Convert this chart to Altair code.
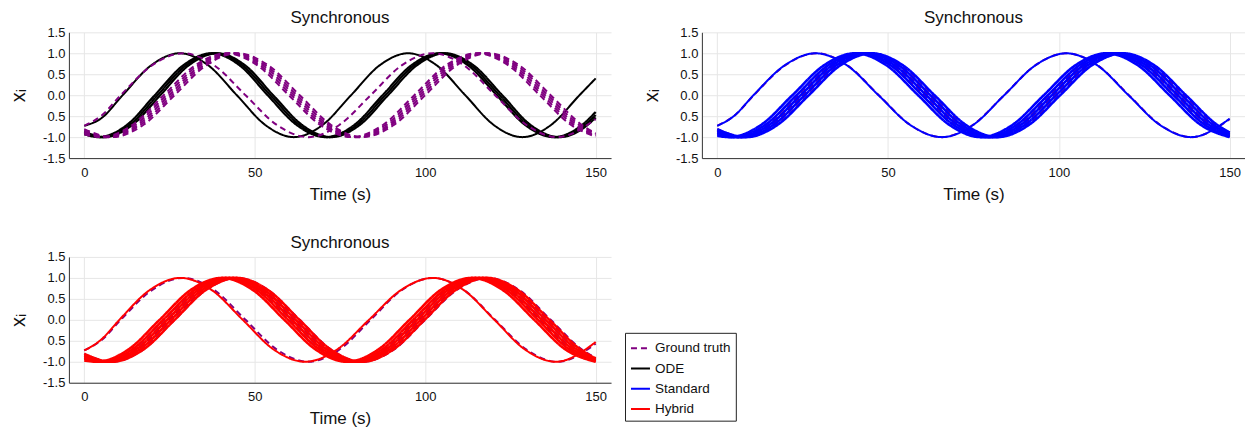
import altair as alt
import pandas as pd

# ---------------- data ----------------
SERIES = ["Ground truth", "ODE", "Standard", "Hybrid"]
COLORS = ["#800080", "#000000", "#0000ff", "#ff0000"]
DASHES = [[6, 4], [1, 0], [1, 0], [1, 0]]

X_TICKS = [0, 50, 100, 150]
Y_TICKS = [-1.5, -1.0, -0.5, 0.0, 0.5, 1.0, 1.5]

# key-phase values of a bundle trajectory, starting at its first trough
BUNDLE_PATTERN = [-1, -0.71, 0, 0.71, 1, 0.71, 0, -0.71, -1, -0.71, 0, 0.71, 1, 0.71, 0, -0.71]
ODE_PATTERN = [-1, -0.71, 0, 0.71, 1, 0.71, 0, -0.71, -1, -0.71, 0, 0.71, 1, 0.71, 0, -0.71, -1, -0.71]

# Ground truth
GT_THIN_T = [0, 5, 10.7, 19.85, 29.0, 38.15, 47.3, 56.5, 65.7, 74.8, 84.0, 93.1, 102.2, 111.4, 120.5, 129.7, 138.8, 150]
GT_THIN_X = [-0.73, -0.49, 0, 0.71, 1, 0.71, 0, -0.71, -1, -0.71, 0, 0.71, 1, 0.71, 0, -0.71, -1, -0.57]
GT_BUNDLE_T = [
    [0, 4.9, 14.1, 23.3, 32.5, 41.7, 50.8, 60.0, 69.2, 78.4, 87.6, 96.8, 106.0, 115.2, 124.4, 133.6, 142.8, 150],
    [0, 5.7, 14.9, 24.1, 33.3, 42.5, 51.6, 60.8, 70.0, 79.2, 88.4, 97.6, 106.8, 116.0, 125.2, 134.4, 143.6, 150],
    [0, 6.5, 15.7, 24.9, 34.1, 43.3, 52.4, 61.6, 70.8, 80.0, 89.2, 98.4, 107.6, 116.8, 126.0, 135.2, 144.4, 150],
    [0, 7.3, 16.5, 25.7, 34.9, 44.1, 53.2, 62.4, 71.6, 80.8, 90.0, 99.2, 108.4, 117.6, 126.8, 136.0, 145.2, 150],
    [0, 8.1, 17.3, 26.5, 35.7, 44.9, 54.0, 63.2, 72.4, 81.6, 90.8, 100.0, 109.2, 118.4, 127.6, 136.8, 146.0, 150],
]
GT_BUNDLE_START = [-0.93, -0.90, -0.87, -0.84, -0.81]
GT_BUNDLE_END = [-0.99, -0.97, -0.96, -0.93, -0.91]

# ODE
ODE_THIN_T = [0, 5, 11.25, 19.6, 28, 36.4, 44.75, 53.1, 61.5, 69.9, 78.25, 86.6, 95, 103.4, 111.75, 120.1, 128.5, 136.9, 145.25, 150]
ODE_THIN_X = [-0.73, -0.55, 0, 0.71, 1, 0.71, 0, -0.71, -1, -0.71, 0, 0.71, 1, 0.71, 0, -0.71, -1, -0.71, 0, 0.40]
ODE_BUNDLE_T = [
    [0, 4.2, 12.5, 20.7, 29.0, 37.4, 45.6, 53.8, 62.3, 70.8, 79.2, 87.5, 95.9, 104.2, 112.6, 121.0, 129.3, 137.7, 146.0, 150],
    [0, 5.0, 13.3, 21.5, 29.8, 38.2, 46.4, 54.6, 63.1, 71.6, 80.0, 88.3, 96.7, 105.0, 113.4, 121.8, 130.1, 138.5, 146.8, 150],
    [0, 5.8, 14.1, 22.3, 30.6, 39.0, 47.2, 55.4, 63.9, 72.4, 80.8, 89.1, 97.5, 105.8, 114.2, 122.6, 130.9, 139.3, 147.6, 150],
]
ODE_BUNDLE_START = [-0.93, -0.89, -0.86]
ODE_BUNDLE_END = [-0.40, -0.47, -0.53]

# Standard
STD_THIN_T = [0, 5, 10.6, 19.7, 28.8, 38.0, 47.2, 56.5, 65.8, 74.9, 84.0, 93.1, 102.2, 111.3, 120.4, 129.6, 138.7, 150]
STD_THIN_X = [-0.73, -0.49, 0, 0.71, 1, 0.71, 0, -0.71, -1, -0.71, 0, 0.71, 1, 0.71, 0, -0.71, -1, -0.56]
STD_BUNDLE_T = [
    [0, 3.6, 12.8, 22.0, 31.2, 40.4, 49.6, 58.8, 68.0, 77.2, 86.4, 95.6, 104.8, 114.0, 123.2, 132.4, 141.6, 150],
    [0, 4.8, 14.0, 23.2, 32.4, 41.6, 50.8, 60.0, 69.2, 78.4, 87.6, 96.8, 106.0, 115.2, 124.4, 133.6, 142.8, 150],
    [0, 6.0, 15.2, 24.4, 33.6, 42.8, 52.0, 61.2, 70.4, 79.6, 88.8, 98.0, 107.2, 116.4, 125.6, 134.8, 144.0, 150],
    [0, 7.2, 16.4, 25.6, 34.8, 44.0, 53.2, 62.4, 71.6, 80.8, 90.0, 99.2, 108.4, 117.6, 126.8, 136.0, 145.2, 150],
    [0, 8.4, 17.6, 26.8, 36.0, 45.2, 54.4, 63.6, 72.8, 82.0, 91.2, 100.4, 109.6, 118.8, 128.0, 137.2, 146.4, 150],
]
STD_BUNDLE_START = [-0.97, -0.93, -0.89, -0.85, -0.81]
STD_BUNDLE_END = [-1.0, -0.985, -0.96, -0.93, -0.89]

# Hybrid
HYB_THIN_T = [0, 5, 10.3, 19.2, 28.2, 37.4, 46.5, 55.6, 64.8, 74.1, 83.5, 92.9, 102.3, 111.3, 120.3, 129.3, 138.3, 150]
HYB_THIN_X = [-0.73, -0.47, 0, 0.71, 1, 0.71, 0, -0.71, -1, -0.71, 0, 0.71, 1, 0.71, 0, -0.71, -1, -0.53]
HYB_BUNDLE_T = [
    [0, 3.7, 12.9, 22.1, 31.2, 40.4, 49.5, 58.7, 67.9, 77.1, 86.2, 95.4, 104.5, 113.7, 122.8, 132.0, 141.2, 150],
    [0, 4.8, 14.0, 23.2, 32.3, 41.5, 50.6, 59.8, 69.0, 78.2, 87.3, 96.5, 105.6, 114.8, 123.9, 133.1, 142.3, 150],
    [0, 5.9, 15.1, 24.3, 33.4, 42.6, 51.7, 60.9, 70.1, 79.3, 88.4, 97.6, 106.7, 115.9, 125.0, 134.2, 143.4, 150],
    [0, 7.0, 16.2, 25.4, 34.5, 43.7, 52.8, 62.0, 71.2, 80.4, 89.5, 98.7, 107.8, 117.0, 126.1, 135.3, 144.5, 150],
    [0, 8.1, 17.3, 26.5, 35.6, 44.8, 53.9, 63.1, 72.3, 81.5, 90.6, 99.8, 108.9, 118.1, 127.2, 136.4, 145.6, 150],
]
HYB_BUNDLE_START = [-0.97, -0.93, -0.89, -0.85, -0.81]
HYB_BUNDLE_END = [-1.0, -0.99, -0.975, -0.95, -0.92]

TITLE = "Synchronous"
X_TITLE = "Time (s)"
Y_TITLE = "x\u1d62"

# line widths: (single trajectory, bundled trajectories)
WIDTHS = {"Ground truth": (2.0, 2.0), "ODE": (2.0, 2.2), "Standard": (2.0, 2.6), "Hybrid": (2.0, 2.6)}


# ---------------- build tables ----------------
def curves(series, thin_t, thin_x, bundle_t, pattern, starts, ends):
    w_thin, w_bundle = WIDTHS[series]
    rows = []
    for t, x in zip(thin_t, thin_x):
        rows.append({"series": series, "curve": series + "-0", "t": t, "x": x, "w": w_thin})
    for k, (ts, s, e) in enumerate(zip(bundle_t, starts, ends)):
        xs = [s] + pattern + [e]
        for t, x in zip(ts, xs):
            rows.append({"series": series, "curve": f"{series}-{k + 1}", "t": t, "x": x, "w": w_bundle})
    return pd.DataFrame(rows)


gt_df = curves("Ground truth", GT_THIN_T, GT_THIN_X, GT_BUNDLE_T, BUNDLE_PATTERN, GT_BUNDLE_START, GT_BUNDLE_END)
ode_df = curves("ODE", ODE_THIN_T, ODE_THIN_X, ODE_BUNDLE_T, ODE_PATTERN, ODE_BUNDLE_START, ODE_BUNDLE_END)
std_df = curves("Standard", STD_THIN_T, STD_THIN_X, STD_BUNDLE_T, BUNDLE_PATTERN, STD_BUNDLE_START, STD_BUNDLE_END)
hyb_df = curves("Hybrid", HYB_THIN_T, HYB_THIN_X, HYB_BUNDLE_T, BUNDLE_PATTERN, HYB_BUNDLE_START, HYB_BUNDLE_END)

FONT = "Liberation Sans"

legend = alt.Legend(
    title=None,
    orient="none",
    legendX=557,
    legendY=301,
    symbolType="stroke",
    symbolSize=361,
    symbolStrokeWidth=2,
    labelFont=FONT,
    labelFontSize=13.5,
    labelColor="#111111",
    labelOffset=4,
    rowPadding=3.3,
    padding=5,
    strokeColor="#222222",
    fillColor="white",
    cornerRadius=0,
)

x_enc = alt.X(
    "t:Q",
    scale=alt.Scale(domain=[-4.5, 154.5], nice=False, zero=False),
    axis=alt.Axis(values=X_TICKS, title=X_TITLE, format="d"),
)
y_enc = alt.Y(
    "x:Q",
    scale=alt.Scale(domain=[-1.5, 1.5], nice=False, zero=False),
    axis=alt.Axis(
        values=Y_TICKS,
        title=Y_TITLE,
        labelExpr="datum.value < -0.75 ? '-' + format(-datum.value, '.1f') : format(abs(datum.value), '.1f')",
    ),
)
color_enc = alt.Color("series:N", scale=alt.Scale(domain=SERIES, range=COLORS), legend=legend)
dash_enc = alt.StrokeDash("series:N", scale=alt.Scale(domain=SERIES, range=DASHES), legend=legend)
width_enc = alt.StrokeWidth("w:Q", scale=None, legend=None)


def lines(df):
    return alt.Chart(df).mark_line(interpolate="monotone", clip=True).encode(
        x=x_enc, y=y_enc, color=color_enc, strokeDash=dash_enc, strokeWidth=width_enc, detail="curve:N"
    )


def panel(model_df, gt_on_top, w):
    gt = lines(gt_df)
    md = lines(model_df)
    layers = [md, gt] if gt_on_top else [gt, md]
    return alt.layer(*layers).properties(
        width=w,
        height=126,
        title=alt.TitleParams(TITLE, fontSize=17, fontWeight="normal", font=FONT, color="#111111", offset=-1),
    )


p1 = panel(ode_df, True, 543)
p2 = panel(std_df, False, 544)
p3 = panel(hyb_df, False, 543)

top = alt.hconcat(p1, p2, spacing=30)
chart = (
    alt.vconcat(top, p3, spacing=32)
    .resolve_scale(color="shared", strokeDash="shared")
    .configure(padding={"left": 0, "top": 1, "right": 0, "bottom": 0})
    .configure_view(stroke=None)
    .configure_axis(
        labelFont=FONT,
        labelFontSize=13,
        labelColor="#111111",
        titleFont=FONT,
        titleFontSize=17,
        titleFontWeight="normal",
        titleColor="#111111",
        gridColor="#e6e6e6",
        gridWidth=1,
        domainColor="#333333",
        domainWidth=1,
        ticks=False,
        labelPadding=6,
    )
    .configure_axisY(labelPadding=4, titlePadding=14, titleFontSize=20)
    .configure_axisX(labelPadding=8, titlePadding=7)
)

chart.save("out.html", embed_options={"renderer": "svg", "actions": False})
